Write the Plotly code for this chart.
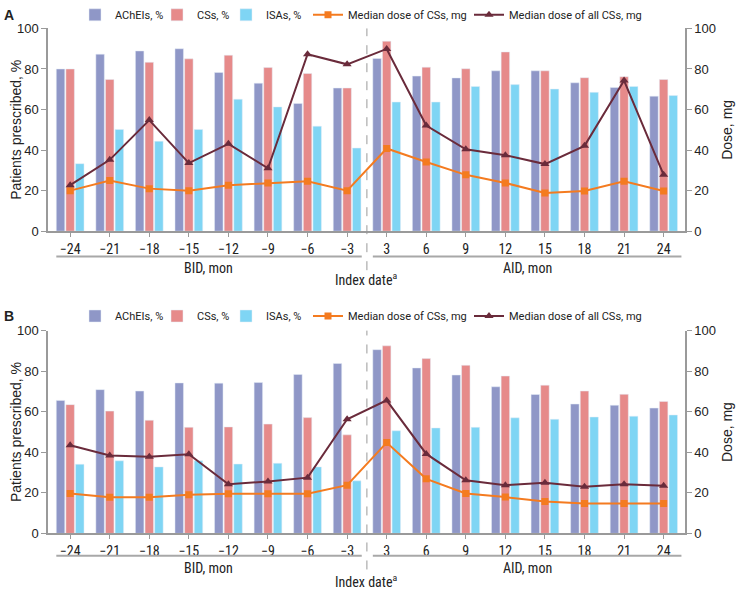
import plotly.graph_objects as go
from plotly.subplots import make_subplots

# 카테고리 (index date 기준 개월)
months = [-24, -21, -18, -15, -12, -9, -6, -3, 3, 6, 9, 12, 15, 18, 21, 24]
tick_text = [str(m).replace("-", "\u2212") for m in months]

# Panel A
a_acheis = [80, 87.3, 88.9, 90, 78.3, 73, 63, 70.6, 85.2, 76.5, 75.6, 79.1, 79.1, 73.2, 70.9, 66.6]
a_css = [80, 74.8, 83.3, 85, 86.8, 80.7, 77.8, 70.6, 93.7, 80.9, 80.1, 88.4, 79.1, 75.7, 76.2, 74.8]
a_isas = [33.3, 50.2, 44.4, 50.2, 65.1, 61.3, 51.8, 41, 63.7, 63.7, 71.4, 72.3, 70.1, 68.5, 71.4, 66.9]
a_dose_css = [20, 25, 21, 20, 22.7, 23.8, 24.6, 20, 40.8, 34.1, 27.8, 23.8, 18.8, 19.8, 24.6, 19.8]
a_dose_all = [22.7, 35.2, 54.8, 33.6, 43.1, 31, 87.3, 82.3, 89.9, 52.1, 40.4, 37.5, 33.1, 42.1, 74.3, 27.8]

# Panel B
b_acheis = [65.6, 70.9, 70.2, 74.2, 74.1, 74.4, 78.4, 83.8, 90.6, 81.6, 78.1, 72.3, 68.5, 63.8, 63.2, 61.8]
b_css = [63.5, 60.3, 55.8, 52.3, 52.5, 53.9, 57.1, 48.6, 92.5, 86.2, 82.9, 77.6, 73.1, 70.2, 68.6, 65.1]
b_isas = [34.1, 35.8, 32.8, 35.8, 34.2, 34.6, 32.8, 25.9, 50.6, 52, 52.3, 57, 56.3, 57.4, 57.8, 58.4]
b_dose_css = [19.7, 17.8, 17.8, 19, 19.5, 19.5, 19.5, 23.8, 44.8, 26.9, 19.7, 17.9, 15.7, 14.7, 14.7, 14.7]
b_dose_all = [43.5, 38.4, 37.8, 39, 24.2, 25.6, 27.5, 56.3, 65.6, 39.2, 26.2, 23.8, 25, 23, 24.2, 23.5]

C_ACH = "#8f97c7"
C_CSS = "#e68a8a"
C_ISA = "#7fd5f4"
C_ORANGE = "#f47b20"
C_DARK = "#6a2b3b"
GRAY = "#9a9a9a"
TXT = "#222222"

W, H = 736, 595
xs = list(range(len(months)))


def py(px):
    return 1 - px / H


fig = make_subplots(rows=2, cols=1, specs=[[{"secondary_y": True}], [{"secondary_y": True}]])

# 범례 항목별 텍스트 시작 위치 (px)
leg_text_x = [116, 198, 267, 349, 510]
leg_y = {1: 8, 2: 317}
LEG_OFF = 41

legfont = dict(family="Roboto, Noto Sans", size=11, color=TXT)
legends = {}
panels = [
    (1, a_acheis, a_css, a_isas, a_dose_css, a_dose_all),
    (2, b_acheis, b_css, b_isas, b_dose_css, b_dose_all),
]
n = 0
for row, ach, css, isa, dcss, dall in panels:
    names = []
    for k in range(5):
        n += 1
        name = "legend" if n == 1 else "legend%d" % n
        names.append(name)
        legends[name] = dict(x=(leg_text_x[k] - LEG_OFF) / W, xanchor="left", y=py(leg_y[row]), yanchor="middle",
                             font=legfont, itemwidth=30, bgcolor="rgba(0,0,0,0)",
                             borderwidth=0, orientation="h")
    fig.add_trace(go.Bar(x=xs, y=ach, name="AChEIs, %", marker_color=C_ACH, legend=names[0]),
                  row=row, col=1, secondary_y=False)
    fig.add_trace(go.Bar(x=xs, y=css, name="CSs, %", marker_color=C_CSS, legend=names[1]),
                  row=row, col=1, secondary_y=False)
    fig.add_trace(go.Bar(x=xs, y=isa, name="ISAs, %", marker_color=C_ISA, legend=names[2]),
                  row=row, col=1, secondary_y=False)
    fig.add_trace(go.Scatter(x=xs, y=dcss, name="Median dose of CSs, mg", mode="lines+markers",
                             line=dict(color=C_ORANGE, width=2),
                             marker=dict(symbol="square", size=7, color=C_ORANGE), legend=names[3]),
                  row=row, col=1, secondary_y=True)
    fig.add_trace(go.Scatter(x=xs, y=dall, name="Median dose of all CSs, mg", mode="lines+markers",
                             line=dict(color=C_DARK, width=2),
                             marker=dict(symbol="triangle-up", size=8, color=C_DARK), legend=names[4]),
                  row=row, col=1, secondary_y=True)

x_dom = [48 / W, 685 / W]
dom_a = [py(230), py(22)]
dom_b = [py(540), py(332)]

narrow = "Liberation Sans Narrow, Roboto Condensed, Liberation Sans, Arial"
tickfont = dict(family=narrow, size=14, color=TXT)
yfont = dict(family="Liberation Sans, Arial", size=13, color=TXT)

for xa in ["xaxis", "xaxis2"]:
    fig.layout[xa].update(domain=x_dom, range=[-0.56, 15.54], tickvals=xs, ticktext=tick_text,
                          showline=True, linecolor=GRAY, linewidth=1.5, ticks="outside",
                          ticklen=4, tickcolor=GRAY, tickfont=tickfont, showgrid=False, zeroline=False)
fig.layout.xaxis.anchor = "y"
fig.layout.xaxis2.anchor = "y3"

for ya, dom, side in [("yaxis", dom_a, "left"), ("yaxis2", dom_a, "right"),
                      ("yaxis3", dom_b, "left"), ("yaxis4", dom_b, "right")]:
    fig.layout[ya].update(domain=dom, range=[0, 100], dtick=20, side=side,
                          showline=True, linecolor=GRAY, linewidth=1.5, ticks="outside",
                          ticklen=5, tickcolor=GRAY, tickfont=yfont, showgrid=False, zeroline=False)

fig.update_layout(
    width=W, height=H,
    margin=dict(l=0, r=0, t=0, b=0),
    paper_bgcolor="white", plot_bgcolor="white",
    barmode="group", bargap=0.27, bargroupgap=0.12,
    font=dict(family="Liberation Sans, Arial", color=TXT),
    showlegend=True,
)
fig.update_layout(**legends)

shapes = []
annotations = []
for xref, top, bot, line_y, lab_y, idx_y in [("x", 22, 230, 256, 268, 279), ("x2", 332, 540, 563, 575, 589)]:
    # 기준일 점선
    shapes.append(dict(type="line", xref=xref, yref="paper", x0=7.5, x1=7.5,
                       y0=py(line_y + 14), y1=py(top), line=dict(color=GRAY, width=1, dash="dash")))
    # BID / AID 구분선
    shapes.append(dict(type="line", xref=xref, yref="paper", x0=-0.35, x1=7.37,
                       y0=py(line_y), y1=py(line_y), line=dict(color="#a8a8a8", width=2)))
    shapes.append(dict(type="line", xref=xref, yref="paper", x0=7.65, x1=15.45,
                       y0=py(line_y), y1=py(line_y), line=dict(color="#a8a8a8", width=2)))
    for txt, xv, yv in [("BID, mon", 3.5, lab_y), ("AID, mon", 11.55, lab_y),
                        ("Index date<sup>a</sup>", 7.5, idx_y)]:
        annotations.append(dict(text=txt, xref=xref, yref="paper", x=xv, y=py(yv),
                                xanchor="center", yanchor="middle", showarrow=False,
                                font=dict(family=narrow, size=14, color=TXT)))
    # 축 제목
    mid = py((top + bot) / 2)
    annotations.append(dict(text="Patients prescribed, %", xref="paper", yref="paper", x=16 / W, y=mid,
                            xanchor="center", yanchor="middle", textangle=-90, showarrow=False,
                            font=dict(family="Liberation Sans, Arial", size=14, color=TXT)))
    annotations.append(dict(text="Dose, mg", xref="paper", yref="paper", x=727 / W, y=mid,
                            xanchor="center", yanchor="middle", textangle=-90, showarrow=False,
                            font=dict(family="Liberation Sans, Arial", size=14, color=TXT)))

annotations.append(dict(text="<b>A</b>", xref="paper", yref="paper", x=2 / W, y=py(8),
                        xanchor="left", yanchor="middle", showarrow=False,
                        font=dict(family="Liberation Sans, Arial", size=14, color=TXT)))
annotations.append(dict(text="<b>B</b>", xref="paper", yref="paper", x=2 / W, y=py(317),
                        xanchor="left", yanchor="middle", showarrow=False,
                        font=dict(family="Liberation Sans, Arial", size=14, color=TXT)))

fig.update_layout(shapes=shapes, annotations=annotations)

# 페이지 기본 여백 제거, 모드바 숨김
fig.write_html("out.html", config={"displayModeBar": False},
               post_script="document.body.style.margin='0px';")
